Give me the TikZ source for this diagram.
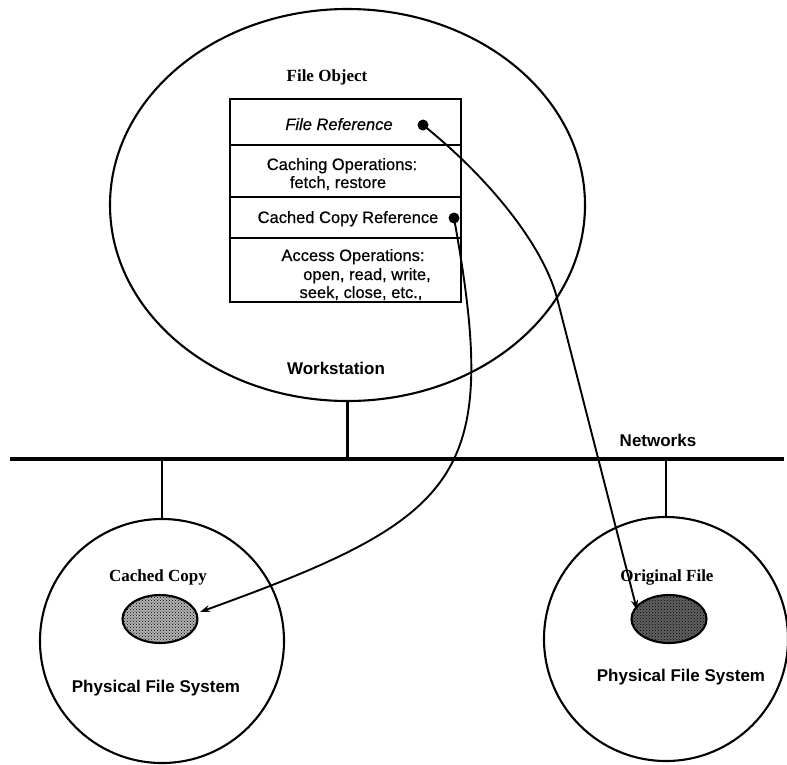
\documentclass[tikz,border=0pt]{standalone}
\usepackage{fontspec}
\setmainfont{Liberation Serif}
\newfontfamily\sansfam[FakeBold=0.5]{Liberation Sans}
\newfontfamily\sansbold{Liberation Sans Bold}
\usetikzlibrary{shapes.geometric,patterns,arrows.meta}

\begin{document}
\begin{tikzpicture}[x=1pt,y=-1pt,
  line width=2.1pt,
  lbl/.style={inner sep=0pt, anchor=base, font=\sansfam\fontsize{16.5}{18}\selectfont},
  ilbl/.style={inner sep=0pt, anchor=base, font=\sansfam\itshape\fontsize{16.5}{18}\selectfont},
  blbl/.style={inner sep=0pt, anchor=base, font=\sansbold\fontsize{17}{19}\selectfont},
  slbl/.style={inner sep=0pt, anchor=base, font=\bfseries\fontsize{17}{19}\selectfont},
  refdot/.style={circle, fill=black, inner sep=0pt, minimum size=11pt},
  site/.style={circle, draw, inner sep=0pt, minimum size=244pt},
  filebody/.style={ellipse, draw, inner sep=0pt, minimum width=75pt, minimum height=48pt},
  link/.style={line width=1.9pt, -{Stealth[length=10pt,width=7pt]}},
]
\useasboundingbox (0,0) rectangle (787,764);

% workstation and its file object
\node[ellipse, draw, inner sep=0pt, minimum width=475pt, minimum height=392pt] (ws) at (347.5,205) {};
\node[slbl] (fobjlbl) at (327,81) {File Object};
\node[draw, inner sep=0pt, minimum width=231pt, minimum height=203pt] (fobj) at (345.5,200.5) {};
\draw (230,145) -- (461,145);
\draw (230,197) -- (461,197);
\draw (230,238) -- (461,238);

\node[ilbl] (frefl) at (339,130) {File Reference};
\node[lbl] (cachea) at (342,170) {Caching Operations:};
\node[lbl] (cacheb) at (338,188) {fetch, restore};
\node[lbl] (crefl) at (348,223) {Cached Copy Reference};
\node[lbl] (acca) at (353,261) {Access Operations:};
\node[lbl] (accb) at (367,280) {open, read, write,};
\node[lbl] (accc) at (361,298) {seek, close, etc.,};

\node[refdot] (fref) at (423,125) {};
\node[refdot] (cref) at (454,218) {};

\node[blbl] (wslbl) at (336,374) {Workstation};

% network
\coordinate (netL) at (10,459);
\coordinate (netR) at (784,459);
\draw[line width=3.4pt] (netL) -- (netR);
\node[blbl] (netlbl) at (658,446) {Networks};

% the two file systems
\node[site] (pfsL) at (162,641) {};
\node[site] (pfsR) at (666,639) {};
\draw (ws.south) -- (ws.south |- netL);
\draw (pfsL.north) -- (pfsL.north |- netL);
\draw (pfsR.north) -- (pfsR.north |- netL);

\node[filebody, preaction={fill=black!30}, pattern=crosshatch dots, pattern color=black] (cc) at (160,619) {};
\node[filebody, preaction={fill=black!62}, pattern=crosshatch dots, pattern color=black] (of) at (669,619) {};

\node[slbl] (cclbl) at (158,581) {Cached Copy};
\node[slbl] (oflbl) at (667,581) {Original File};
\node[blbl] (pfsLlbl) at (156,692) {Physical File System};
\node[blbl] (pfsRlbl) at (681,681) {Physical File System};

% references to the files
\coordinate (ccTip) at (200,612);
\coordinate (ofTip) at (637,610);
\draw[link] (cref.center) .. controls (501,478) and (463,517) .. (ccTip);
\draw[link] (fref.center) .. controls (489,178) and (543,245) .. (557,298) -- (ofTip);
\end{tikzpicture}
\end{document}
